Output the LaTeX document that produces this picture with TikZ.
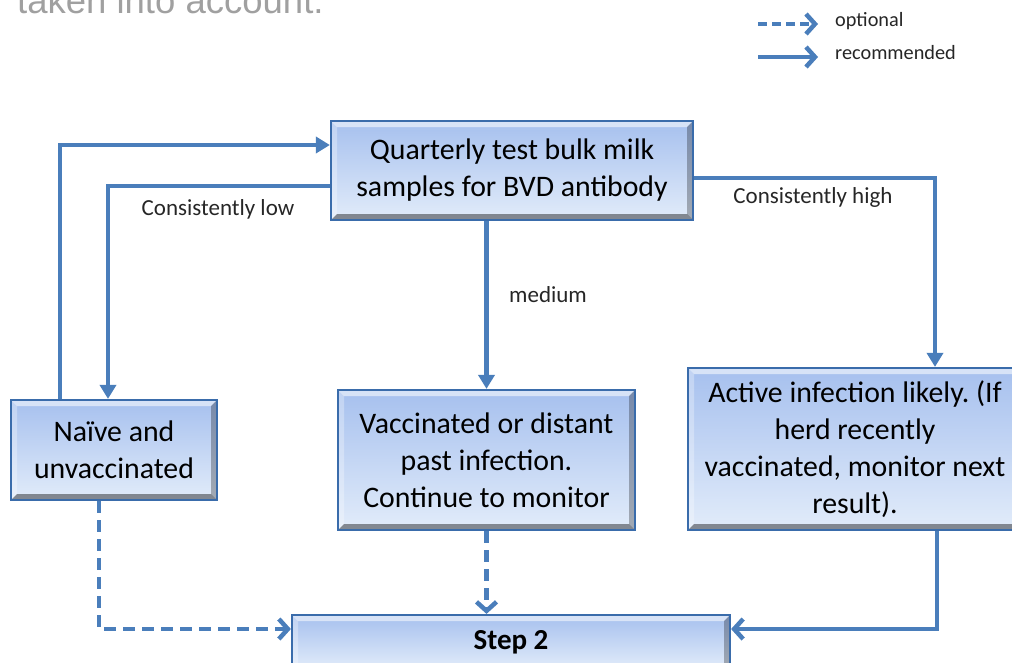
\documentclass[tikz,border=0pt]{standalone}
\usepackage{fontspec}
\setmainfont{Carlito}
\newfontfamily\topfont{Liberation Sans}
\usetikzlibrary{arrows.meta}
\frenchspacing
\definecolor{lineblue}{HTML}{4A7EBB}
\definecolor{boxborder}{HTML}{3A6CAB}
\definecolor{gtop}{HTML}{A6C0EE}
\definecolor{gbot}{HTML}{E2ECFA}
\definecolor{topgray}{HTML}{A0A0A0}
\tikzset{
  flowbox/.style={draw=boxborder, line width=2.2pt, top color=gtop, bottom color=gbot,
    align=center, inner sep=0pt, text=black, font=\fontsize{29.8}{37}\selectfont,
    path picture={
      \fill[white,opacity=.55] (path picture bounding box.north west) -- (path picture bounding box.north east)
        -- ([shift={(-6,6)}]path picture bounding box.north east) -- ([shift={(6,6)}]path picture bounding box.north west) -- cycle;
      \fill[white,opacity=.3] (path picture bounding box.north west) -- (path picture bounding box.south west)
        -- ([shift={(6,-6)}]path picture bounding box.south west) -- ([shift={(6,6)}]path picture bounding box.north west) -- cycle;
      \fill[black,opacity=.28] (path picture bounding box.north east) -- (path picture bounding box.south east)
        -- ([shift={(-6,-6)}]path picture bounding box.south east) -- ([shift={(-6,6)}]path picture bounding box.north east) -- cycle;
      \fill[black,opacity=.42] (path picture bounding box.south west) -- (path picture bounding box.south east)
        -- ([shift={(-6,-6)}]path picture bounding box.south east) -- ([shift={(6,-6)}]path picture bounding box.south west) -- cycle;
    }},
  rec/.style={draw=lineblue, line width=4.5pt, -{Triangle[length=14pt,width=16pt]}},
  recbarb/.style={draw=lineblue, line width=4.5pt, -{Straight Barb[length=9pt,width=20pt]}},
  opt/.style={draw=lineblue, line width=4.5pt, dash pattern=on 12pt off 7pt, -{Straight Barb[length=9pt,width=20pt]}},
  lbl/.style={font=\fontsize{23}{27}\selectfont, text=black!85, inner sep=0pt},
  legtxt/.style={font=\fontsize{20.3}{24}\selectfont, text=black!85, inner sep=0pt, anchor=west},
}
\begin{document}
\begin{tikzpicture}[x=1pt,y=-1pt]
\useasboundingbox (0,0) rectangle (1012,662);
\clip (0,0) rectangle (1012,662);
% cut-off heading text (cut at the top edge, as in the reference)
\node[anchor=base west, inner sep=0pt, text=topgray, font=\topfont\fontsize{36.5}{40}\selectfont] (head) at (17,13) {taken into account.};

% boxes
\node[flowbox, minimum width=362pt, minimum height=99pt] (quart) at (512,170.5)
  {Quarterly test bulk milk\\samples for BVD antibody};
\node[flowbox, minimum width=206pt, minimum height=100pt] (naive) at (114,450)
  {Naïve and\\unvaccinated};
\node[flowbox, minimum width=297pt, minimum height=140pt] (vacc) at (486.5,460)
  {Vaccinated or distant\\past infection.\\Continue to monitor};
\node[flowbox, minimum width=334pt, minimum height=162pt] (active) at (855,449)
  {Active infection likely. (If\\herd recently\\vaccinated, monitor next\\result).};
\node[flowbox, minimum width=438pt, minimum height=54pt, font=\bfseries\fontsize{29}{34}\selectfont] (step) at (511,642)
  {Step 2};

% connectors
\draw[rec] ([shift={(-54,0)}]naive.north) |- ([shift={(0,-25.5)}]quart.west);
\draw[rec] ([shift={(0,15.5)}]quart.west) -| ([shift={(-6,0)}]naive.north);
\draw[rec] (quart.south -| vacc.north) -- (vacc.north);
\draw[rec] ([shift={(0,7.5)}]quart.east) -| ([shift={(80,0)}]active.north);
\draw[opt] ([shift={(-15,0)}]naive.south) |- ([shift={(0,-13)}]step.west);
\draw[opt] (vacc.south) -- (vacc.south |- step.north);
\draw[recbarb] ([shift={(82,0)}]active.south) |- ([shift={(0,-13)}]step.east);

% labels
\node[lbl] (lowlbl) at (218,209) {Consistently low};
\node[lbl] (medlbl) at (548,295) {medium};
\node[lbl] (highlbl) at (813,197) {Consistently high};

% legend
\coordinate (l1a) at (758,24);
\coordinate (l1b) at (818,24);
\coordinate (l2a) at (758,57);
\coordinate (l2b) at (818,57);
\draw[opt, dash pattern=on 9pt off 5pt] (l1a) -- (l1b);
\draw[recbarb] (l2a) -- (l2b);
\node[legtxt] (legopt) at (835,21) {optional};
\node[legtxt] (legrec) at (835,53) {recommended};
\end{tikzpicture}
\end{document}
